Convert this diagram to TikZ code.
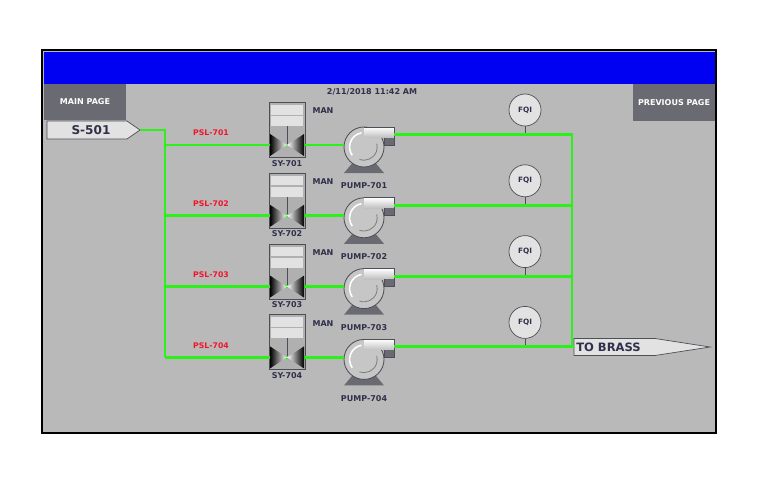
\documentclass[tikz,border=0pt]{standalone}
\usepackage{fontspec}
\setmainfont{DejaVu Sans}
\usepackage{xcolor}
\usepackage{tikz}
\usetikzlibrary{positioning}
\usetikzlibrary{calc}
\definecolor{hmigray}{HTML}{B9B9B9}
\definecolor{hmiblue}{HTML}{0000F2}
\definecolor{hmibtngray}{HTML}{6A6A72}
\definecolor{hmitext}{HTML}{30304A}
\definecolor{hmired}{HTML}{F0142A}
\definecolor{hmigreen}{HTML}{2CF01A}
\definecolor{hmiline}{HTML}{4E4E58}
\definecolor{hmipanel}{HTML}{E2E2E2}
\tikzset{
  hmilbl/.style = {inner sep=0pt, text=hmitext,
    font=\bfseries\fontsize{5.7}{6}\selectfont},
  hmibtn/.style = {hmilbl, rectangle, fill=hmibtngray, text=white,
    minimum width=2.05cm, minimum height=0.9cm},% screen buttons
  psl/.style = {hmilbl, text=hmired, font=\bfseries\fontsize{5.5}{6}\selectfont},
  taglbl/.style = {hmilbl, font=\bfseries\fontsize{8.6}{9}\selectfont},
  tagshape/.style = {draw=hmiline, fill=hmipanel, line width=0.5pt},
  pipe/.style = {draw=hmigreen, line width=2.1pt},
  valvebox/.style = {rectangle, draw=hmiline, fill=hmigray!95!black,
    line width=0.6pt, minimum width=0.9cm, minimum height=1.375cm},
  pumpbody/.style = {circle, draw=hmiline, fill=gray!45, line width=0.6pt,
    minimum size=1cm, inner sep=0pt},
  fqi/.style = {hmilbl, circle, draw=hmiline, fill=hmipanel, line width=0.5pt,
    minimum size=0.8cm, font=\bfseries\fontsize{5.2}{6}\selectfont}% flow totaliser
}

\begin{document}
\begin{tikzpicture}[x=0.025cm, y=-0.025cm]
\fill[white] (0,0) rectangle (760,480);
\useasboundingbox (0,0) rectangle (760,480);
% screen
\fill[hmigray] (42,50) rectangle (716,433);
\fill[hmiblue] (43.5,52) rectangle (714.5,84);
\draw[line width=2.1pt] (42,50) rectangle (716,433);

\node[hmibtn] (mainbtn) at (85,102) {MAIN PAGE};
\node[hmibtn] (prevbtn) at (674,102.5) {PREVIOUS PAGE};
\node[hmilbl] (date) at (372,92) {2/11/2018 11:42 AM};

% source and destination tags
\draw[tagshape] (47,121) -- (127,121) -- (140,130) -- (127,139) -- (47,139) -- cycle;
\node[taglbl] (src) at (91,130) {S-501};
\coordinate (srctip) at (140,130);
\draw[tagshape] (574,338.5) -- (655,338.5) -- (710,347) -- (655,355.5) -- (574,355.5) -- cycle;
\node[taglbl, anchor=west, font=\bfseries\fontsize{8.2}{9}\selectfont] (dest) at (576,347.5) {TO BRASS};
\coordinate (brass) at (574,346.9);
\coordinate (rbot) at (572,346.9);

\foreach \n in {1,...,4}{
\begin{scope}[shift={(0,{70.8*(\n-1)})}]
  % pump
  \fill[hmibtngray] (355,160) -- (373,160) -- (384,173) -- (344,173) -- cycle;
  \node[pumpbody] (pump\n) at (364,147) {};
  \draw[white, line width=1.1pt] (pump\n) ++(100:0.36cm) arc[start angle=100, end angle=215, radius=0.36cm];
  \draw[gray, line width=0.6pt] (pump\n) ++(-110:0.33cm) arc[start angle=-110, end angle=15, radius=0.33cm];
  \shade[top color=white, bottom color=gray!50] (364,127) rectangle (394,137.5);
  \fill[hmibtngray] (384,137.5) rectangle (394,145);
  \draw[hmiline, line width=0.6pt] (364,127) -- (394,127) -- (394,145) -- (384,145) -- (384,137.5);
  \coordinate (out\n) at (394,134.5);
  % valve
  \node[valvebox] (sy\n) at (287,130) {};
  \fill[hmipanel] (271,105) rectangle (303,114.5);
  \fill[hmipanel] (271,116) rectangle (303,126);
  \draw[hmiline, line width=0.4pt] (287,126) -- (287,145);
  \coordinate (hdr\n) at (165,145);
  \draw[pipe] (hdr\n) -- (hdr\n -| pump\n.west);
  \shade[left color=black, right color=white] (270,134) -- (287,145) -- (270,156) -- cycle;
  \shade[left color=white, right color=black] (304,134) -- (287,145) -- (304,156) -- cycle;
  % labels
  \node[psl] (psl\n) at (211,133) {PSL-70\n};
  \node[hmilbl] (man\n) at (323,111) {MAN};
  \node[hmilbl, below=0.05cm of sy\n] {SY-70\n};
  \node[hmilbl, below=0.38cm of pump\n] {PUMP-70\n};
  \node[fqi] (fqi\n) at (525,110) {FQI};
  \draw[hmiline, line width=0.5pt] (fqi\n.south) -- (fqi\n.south |- out\n);
\end{scope}
}

% pipes
\draw[pipe] (srctip) -| (hdr4);
\draw[pipe] (out1) -| (rbot);
\foreach \n in {2,3}{
  \draw[pipe] (out\n) -- (out\n -| rbot);
}
\draw[pipe] (out4) -- (brass);
\end{tikzpicture}
\end{document}
